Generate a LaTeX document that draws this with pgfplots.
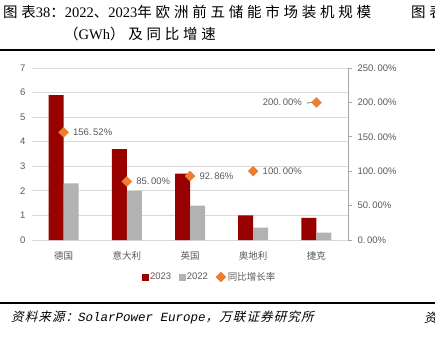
\documentclass[border=0pt]{standalone}
\usepackage{pgfplots}
\pgfplotsset{compat=1.18}
\usepackage{fontspec}
\setmainfont{Liberation Serif}
\setsansfont{Liberation Sans}
\setmonofont{Liberation Mono}
\newfontfamily\cjk{Noto Sans CJK SC}
\newfontfamily\cjkT[LetterSpace=26]{Noto Sans CJK SC}
\newfontfamily\cjkit[FakeSlant=0.25,LetterSpace=9]{Noto Sans CJK SC}
\definecolor{redA}{HTML}{990000}
\definecolor{grayB}{HTML}{B2B2B2}
\definecolor{orng}{HTML}{ED7D31}
\definecolor{txt}{HTML}{595959}
\definecolor{gridc}{HTML}{D9D9D9}
\begin{document}
\begin{tikzpicture}[x=1pt,y=1pt]
\path[use as bounding box] (0,0) rectangle (435,337);
\begin{scope}
\clip (0,0) rectangle (435,337);
% title
\node[anchor=west,inner sep=0pt,font=\fontsize{14.5}{16}\selectfont] at (3,325) {{\cjkT 图表}38{\cjkT ：}2022{\cjkT 、}2023{\cjkT 年欧洲前五储能市场装机规模}};
\node[anchor=west,inner sep=0pt,font=\fontsize{14.5}{16}\selectfont] at (64,303) {{\cjkT （}GWh{\cjkT ）及同比增速}};
\node[anchor=west,inner sep=0pt,font=\fontsize{14.5}{16}\selectfont] at (411,325) {{\cjkT 图表}};
\draw[line width=2.5pt] (0,287) -- (435,287);
\draw[line width=2.5pt] (0,34) -- (435,34);
\node[anchor=west,inner sep=0pt,font=\fontsize{12.5}{14}\selectfont] at (11,19) {{\cjkit 资料来源：}{\ttfamily\itshape SolarPower Europe}{\cjkit ，万联证券研究所}};
\node[anchor=west,inner sep=0pt,font=\fontsize{12.5}{14}\selectfont] at (424,19) {{\cjkit 资料}};
\end{scope}

\begin{axis}[
  at={(32pt,97pt)}, anchor=south west, scale only axis,
  width=316pt, height=172pt,
  xmin=-0.5, xmax=4.5, ymin=0, ymax=7,
  ytick={0,1,...,7}, xtick={0,1,2,3,4},
  xticklabels={德国,意大利,英国,奥地利,捷克},
  xticklabel style={font=\cjk\fontsize{9.5}{10}\selectfont, text=txt, yshift=-8pt},
  yticklabel style={font=\sffamily\fontsize{9.5}{10}\selectfont, text=txt, xshift=-3pt},
  /pgf/number format/assume math mode=true,
  ymajorgrids, grid style={gridc, line width=0.8pt},
  axis x line*=bottom, axis y line*=left,
  x axis line style={gridc, line width=0.8pt, -},
  y axis line style={draw=none},
  major tick length=0pt,
  ybar=0pt, bar width=15pt,
]
\addplot[fill=redA, draw=none] coordinates {(0,5.9) (1,3.7) (2,2.7) (3,1.0) (4,0.9)};
\addplot[fill=grayB, draw=none] coordinates {(0,2.3) (1,2.0) (2,1.4) (3,0.5) (4,0.3)};
\end{axis}

\begin{axis}[
  at={(32pt,97pt)}, anchor=south west, scale only axis,
  width=316pt, height=172pt,
  xmin=-0.5, xmax=4.5, ymin=0, ymax=250,
  axis x line=none, axis y line*=right,
  ytick={0,50,100,150,200,250},
  yticklabels={0.\,00\%,50.\,00\%,100.\,00\%,150.\,00\%,200.\,00\%,250.\,00\%},
  yticklabel style={font=\sffamily\fontsize{9.5}{10}\selectfont, text=txt, xshift=2pt},
  y axis line style={color=black!35, line width=0.7pt, -},
  ytick style={color=black!35, line width=0.7pt},
  tick align=outside, major tick length=4pt,
  point meta=explicit symbolic,
  nodes near coords style={font=\sffamily\fontsize{9.5}{10}\selectfont, text=txt},
  legend style={at={(0.563,-0.215)}, anchor=center, draw=none, fill=none,
     font=\fontsize{9.5}{10}\selectfont, text=txt, legend columns=3,
     /tikz/every even column/.append style={column sep=6pt}},
  legend cell align=left,
]
\addlegendimage{only marks, mark=square*, mark options={fill=redA, draw=redA}, mark size=2.8pt}
\addlegendimage{only marks, mark=square*, mark options={fill=grayB, draw=grayB}, mark size=2.8pt}
\addplot[only marks, mark=square*, mark size=3.5pt, mark options={rotate=45, fill=orng, draw=orng},
  nodes near coords, nodes near coords align={anchor=west, xshift=6pt}]
  coordinates {(0,156.52) [156.\,52\%] (1,85.00) [85.\,00\%] (2,92.86) [92.\,86\%] (3,100.00) [100.\,00\%]};
\addplot[forget plot, only marks, mark=square*, mark size=3.5pt, mark options={rotate=45, fill=orng, draw=orng},
  nodes near coords, nodes near coords align={anchor=east, xshift=-11pt}]
  coordinates {(4,200.00) [200.\,00\%]};
\draw[black!70, line width=0.6pt] (axis cs:3.85,199) -- (axis cs:3.94,200);
\legend{\sffamily 2023, \sffamily 2022, \cjk 同比增长率}
\end{axis}
\end{tikzpicture}
\end{document}
